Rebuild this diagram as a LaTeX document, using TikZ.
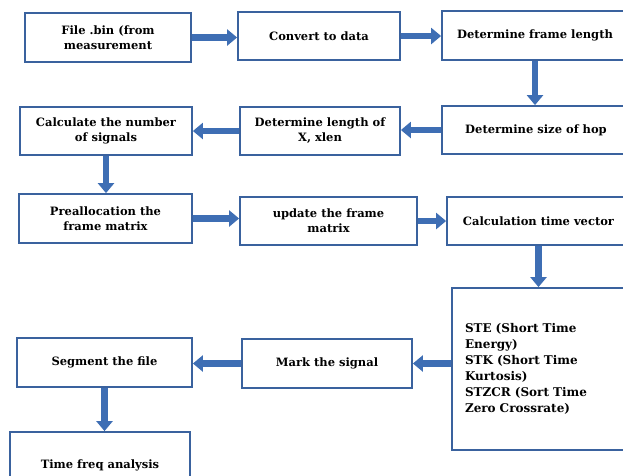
\documentclass[tikz,border=0pt]{standalone}
\usepackage{fontspec}
\setmainfont{DejaVu Serif}
\usetikzlibrary{arrows.meta}
\definecolor{boxblue}{RGB}{58,98,158}
\definecolor{arrblue}{RGB}{62,110,180}
\begin{document}
\begin{tikzpicture}[x=1pt,y=-1pt,
 box/.style={draw=boxblue, line width=1.8pt, fill=white, font=\bfseries\fontsize{11.5}{15}\selectfont, align=center, inner sep=0pt},
 flow/.style={draw=arrblue, line width=6.5pt, -{Triangle[length=10pt,width=16pt]}}]
\fill[white] (0,0) rectangle (623,475);
\clip (0,0) rectangle (623,475);
\node[box, minimum width=166, minimum height=49] (file) at (108,37.5) {File .bin (from\\measurement};
\node[box, minimum width=162, minimum height=48] (convert) at (319,36) {Convert to data};
\node[box, minimum width=186, minimum height=49] (frame) at (535,35.5) {Determine frame length};
\node[box, minimum width=172, minimum height=48] (calc) at (106,131) {Calculate the number\\of signals};
\node[box, minimum width=160, minimum height=48] (length) at (320,131) {Determine length of\\X, xlen};
\node[box, minimum width=188, minimum height=48] (hop) at (536,130) {Determine size of hop};
\node[box, minimum width=173, minimum height=49] (prealloc) at (105.5,218.5) {Preallocation the\\frame matrix};
\node[box, minimum width=177, minimum height=48] (update) at (328.5,221) {update the frame\\matrix};
\node[box, minimum width=183, minimum height=48] (ctime) at (538.5,221) {Calculation time vector};
\node[box, minimum width=178, minimum height=162, text width=152, align=left, font=\bfseries\fontsize{12}{16}\selectfont] (ste) at (541,369) {STE (Short Time\\Energy)\\STK (Short Time\\Kurtosis)\\STZCR (Sort Time\\Zero Crossrate)};
\node[box, minimum width=170, minimum height=49] (mark) at (327,363.5) {Mark the signal};
\node[box, minimum width=175, minimum height=49] (seg) at (104.5,362.5) {Segment the file};
\node[box, minimum width=180, minimum height=66] (tf) at (100,465) {Time freq analysis};
\draw[flow] (file.east) -- (convert.west |- file.east);
\draw[flow] (convert.east) -- (frame.west |- convert.east);
\draw[flow] (frame.south) -- (frame.south |- hop.north);
\draw[flow] (hop.west) -- (length.east |- hop.west);
\draw[flow] (length.west) -- (calc.east);
\draw[flow] (calc.south) -- (calc.south |- prealloc.north);
\draw[flow] (prealloc.east) -- (update.west |- prealloc.east);
\draw[flow] (update.east) -- (ctime.west);
\draw[flow] (ctime.south) -- (ctime.south |- ste.north);
\draw[flow] (ste.west |- mark.east) -- (mark.east);
\draw[flow] (mark.west) -- (seg.east |- mark.west);
\draw[flow] (seg.south) -- (seg.south |- tf.north);
\end{tikzpicture}
\end{document}
